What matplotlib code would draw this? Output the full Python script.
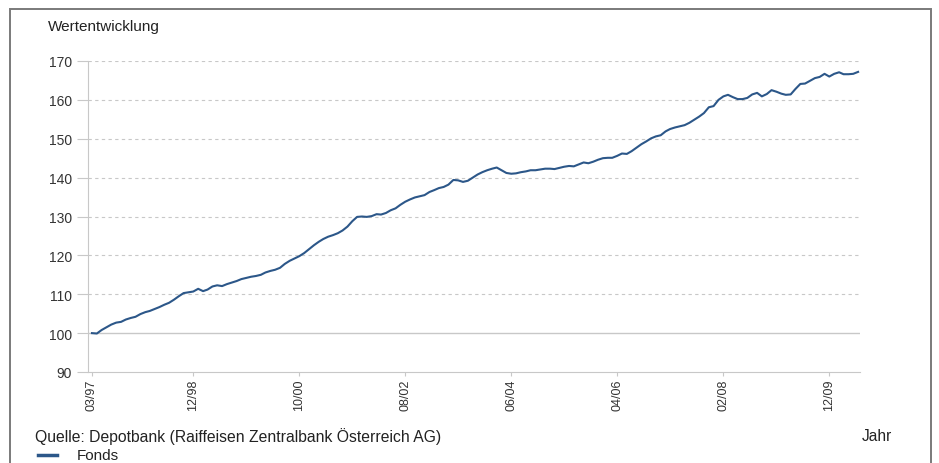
import pandas as pd
import matplotlib.pyplot as plt
from matplotlib.patches import Rectangle

plt.rcParams['font.family'] = ['Liberation Sans', 'DejaVu Sans']

# Monatswerte Fonds, ab 03/1997 (indexiert auf 100)
werte = [
    100.0, 99.9, 100.8, 101.5, 102.2, 102.7, 102.9, 103.5, 103.9, 104.2,
    104.9, 105.4, 105.7, 106.2, 106.7, 107.3, 107.8, 108.6, 109.5, 110.3,
    110.5, 110.7, 111.4, 110.8, 111.2, 112.0, 112.3, 112.1, 112.6, 113.0,
    113.4, 113.9, 114.2, 114.5, 114.7, 115.0, 115.6, 116.0, 116.3, 116.8,
    117.8, 118.6, 119.2, 119.8, 120.6, 121.6, 122.6, 123.5, 124.2, 124.8,
    125.2, 125.7, 126.4, 127.4, 128.8, 129.9, 130.0, 129.9, 130.1, 130.6,
    130.5, 130.9, 131.6, 132.1, 133.0, 133.8, 134.4, 134.9, 135.2, 135.5,
    136.3, 136.8, 137.3, 137.6, 138.2, 139.4, 139.3, 138.9, 139.2, 140.0,
    140.8, 141.4, 141.9, 142.3, 142.6, 141.9, 141.2, 141.0, 141.1, 141.4,
    141.6, 141.9, 141.9, 142.1, 142.3, 142.3, 142.2, 142.5, 142.8, 143.0,
    142.9, 143.4, 143.9, 143.7, 144.1, 144.6, 145.0, 145.1, 145.1, 145.6,
    146.2, 146.1, 146.8, 147.7, 148.6, 149.3, 150.1, 150.6, 150.9, 151.9,
    152.5, 152.9, 153.2, 153.5, 154.1, 154.9, 155.7, 156.6, 158.1, 158.4,
    160.0, 160.9, 161.3, 160.7, 160.2, 160.2, 160.5, 161.4, 161.8, 160.9,
    161.5, 162.5, 162.1, 161.6, 161.3, 161.4, 162.8, 164.1, 164.2, 164.9,
    165.6, 165.9, 166.7, 166.0, 166.7, 167.1, 166.6, 166.6, 166.7, 167.2,
]
datum = pd.date_range("1997-03-01", periods=len(werte), freq="MS")

x_labels = ["03/97", "12/98", "10/00", "08/02", "06/04", "04/06", "02/08", "12/09"]
x_ticks = [pd.to_datetime(l, format="%m/%y") for l in x_labels]
y_ticks = [90, 100, 110, 120, 130, 140, 150, 160, 170]

fig = plt.figure(figsize=(9.39, 4.64), dpi=100)
ax = fig.add_axes([88 / 939, 1 - 373 / 464, (860 - 88) / 939, (373 - 62) / 464])

# grauer Rahmen
fig.patches.append(Rectangle((10 / 939, -0.1), 921 / 939, 1.1 - 10 / 464,
                             transform=fig.transFigure, fill=False,
                             edgecolor='#7a7a7a', linewidth=1.4))

for y in y_ticks[2:]:
    ax.axhline(y, color='#c8c8c8', linewidth=0.8, linestyle=(0, (3, 3)), zorder=1)
ax.axhline(100, color='#c8c8c8', linewidth=1.0, zorder=1)

ax.plot(datum, werte, color='#2c5789', linewidth=1.5, zorder=3)

ax.set_ylim(90, 170)
ax.set_xlim(datum[0] - pd.Timedelta(days=25), datum[-1] + pd.Timedelta(days=12))
ax.set_yticks(y_ticks)
ax.set_xticks(x_ticks)
ax.set_xticklabels(x_labels, rotation=90, fontsize=9)
ax.tick_params(axis='y', labelsize=10, colors='#c8c8c8', labelcolor='#333333',
               length=8, width=0.8, pad=3.6)
ax.tick_params(axis='x', colors='#c8c8c8', labelcolor='#333333',
               length=3, width=0.8, pad=2)

for s in ['top', 'right']:
    ax.spines[s].set_visible(False)
ax.spines['left'].set_color('#c8c8c8')
ax.spines['bottom'].set_color('#c8c8c8')

fig.text(48 / 939, 1 - 27 / 464, "Wertentwicklung", fontsize=11,
         color='#222222', va='center')
fig.text(35 / 939, 1 - 437 / 464,
         "Quelle: Depotbank (Raiffeisen Zentralbank Österreich AG)",
         fontsize=11.3, color='#222222', va='center')
fig.text(862 / 939, 1 - 437 / 464, "Jahr", fontsize=11.2,
         color='#222222', va='center')

# Legende
fig.lines.append(plt.Line2D([38 / 939, 57 / 939], [1 - 456 / 464, 1 - 456 / 464],
                            transform=fig.transFigure, color='#2c5789', linewidth=2.5))
fig.text(77 / 939, 1 - 456 / 464, "Fonds", fontsize=11, color='#222222', va='center')

fig.savefig("out.png", dpi=100)
